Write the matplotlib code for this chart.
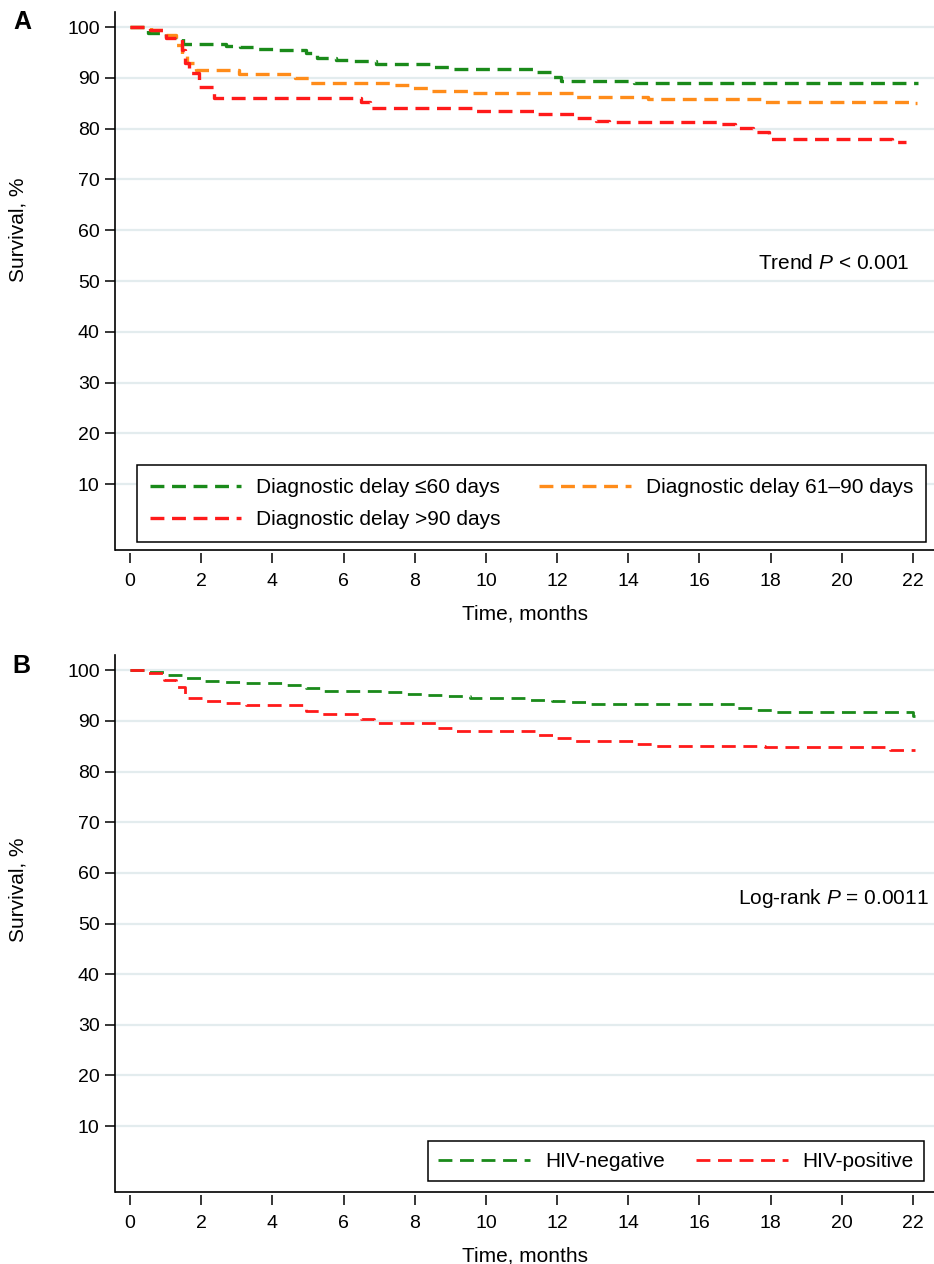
import matplotlib
matplotlib.use("Agg")
import matplotlib.pyplot as plt

plt.rcParams["font.family"] = ["Liberation Sans", "DejaVu Sans"]
plt.rcParams["mathtext.fontset"] = "custom"
plt.rcParams["mathtext.rm"] = "Liberation Sans"
plt.rcParams["mathtext.it"] = "Liberation Sans:italic"
plt.rcParams["lines.scale_dashes"] = False

# ---- Panel A: survival by diagnostic delay --------------------------------
a_green_t = [0, 0.5, 1.0, 1.5, 2.7, 3.1, 3.6, 4.2, 4.95, 5.25, 5.8, 6.3, 6.9,
             8.5, 9.05, 11.4, 11.85, 12.1, 14.15, 22.15]
a_green_s = [100, 98.8, 98.0, 96.7, 96.3, 96.1, 95.8, 95.6, 95.0, 94.0, 93.5,
             93.3, 92.8, 92.2, 91.7, 91.2, 90.2, 89.4, 89.0, 89.0]

a_orange_t = [0, 0.6, 1.0, 1.3, 1.45, 1.6, 1.85, 3.05, 4.65, 5.05, 7.35, 7.9,
              8.45, 9.55, 12.5, 14.55, 17.75, 22.05, 22.1]
a_orange_s = [100, 99.5, 98.5, 96.5, 94.5, 93.0, 91.6, 90.7, 90.0, 89.1, 88.6,
              88.0, 87.5, 87.0, 86.3, 85.8, 85.3, 85.0, 85.0]

a_red_t = [0, 0.55, 1.0, 1.45, 1.55, 1.65, 1.95, 2.35, 6.5, 6.75, 9.6, 11.35,
           12.55, 13.1, 13.45, 16.6, 17.0, 17.5, 17.95, 21.4, 21.8]
a_red_s = [100, 99.5, 97.8, 95.5, 93.0, 91.0, 88.2, 86.1, 85.2, 84.1, 83.5,
           82.9, 82.2, 81.6, 81.4, 80.9, 80.1, 79.3, 78.0, 77.3, 77.3]

a_labels = ["Diagnostic delay \u226460 days", "Diagnostic delay 61\u201390 days",
            "Diagnostic delay >90 days"]

# ---- Panel B: survival by HIV status --------------------------------------
b_neg_t = [0, 0.5, 1.0, 1.5, 2.0, 2.65, 3.25, 3.8, 4.4, 4.95, 5.35, 7.2, 7.75,
           8.35, 8.9, 9.55, 11.25, 11.85, 12.4, 12.95, 17.0, 17.6, 18.05,
           22.0, 22.05]
b_neg_s = [100, 99.7, 99.0, 98.4, 97.9, 97.7, 97.5, 97.4, 97.1, 96.4, 95.9,
           95.6, 95.3, 95.1, 94.9, 94.6, 94.2, 94.0, 93.7, 93.3, 92.6, 92.2,
           91.7, 91.0, 91.0]

b_pos_t = [0, 0.5, 0.95, 1.3, 1.55, 2.05, 2.65, 3.25, 4.95, 5.4, 6.5, 6.85,
           8.6, 9.05, 11.45, 11.9, 12.45, 14.25, 14.75, 17.85, 21.35, 22.05]
b_pos_s = [100, 99.4, 98.0, 96.7, 94.5, 93.9, 93.6, 93.1, 92.0, 91.3, 90.3,
           89.5, 88.5, 87.9, 87.2, 86.6, 86.1, 85.4, 85.0, 84.8, 84.2, 84.2]

b_labels = ["HIV-negative", "HIV-positive"]

GREEN, ORANGE, RED = "#1a8a1a", "#ff8c1a", "#ff1a1a"
DASH = (10, 5.5)

fig = plt.figure(figsize=(9.34, 12.64), dpi=100)
W, H = 934, 1264


def setup(ax, ylab_px):
    ax.set_xlim(-0.42, 22.59)
    ax.set_ylim(-3, 103)
    ax.set_xticks(range(0, 23, 2))
    ax.set_yticks(range(10, 101, 10))
    ax.yaxis.grid(True, color="#e3ecee", lw=1.6)
    ax.set_axisbelow(True)
    for s in ["top", "right"]:
        ax.spines[s].set_visible(False)
    ax.spines["left"].set_linewidth(1.2)
    ax.spines["bottom"].set_position(("outward", 2.5))
    ax.spines["bottom"].set_visible(False)
    ax.plot([0, 1], [0, 0], transform=ax.transAxes, color="black", lw=1.2,
            clip_on=False, solid_capstyle="butt")
    ax.tick_params(direction="out", length=7, width=1.1, labelsize=14,
                   color="black")
    ax.tick_params(axis="y", pad=4)
    ax.tick_params(axis="x", pad=7)
    ax.set_xlabel("Time, months", fontsize=15)
    ax.xaxis.set_label_coords(0.5, -0.102)
    fig.text(18 / W, 1 - ylab_px / H, "Survival, %", fontsize=15,
             rotation=90, ha="center", va="center")


# Panel A
axA = fig.add_axes([115 / W, 1 - 550 / H, 819 / W, 538 / H])
setup(axA, 230)
lg, = axA.plot(a_green_t, a_green_s, drawstyle="steps-post", color=GREEN,
               lw=2.4, dashes=DASH, label=a_labels[0])
lo, = axA.plot(a_orange_t, a_orange_s, drawstyle="steps-post", color=ORANGE,
               lw=2.4, dashes=DASH, label=a_labels[1])
lr, = axA.plot(a_red_t, a_red_s, drawstyle="steps-post", color=RED,
               lw=2.4, dashes=DASH, label=a_labels[2])
axA.text(17.65, 53.4, "Trend $P$ < 0.001", fontsize=15, va="center")
legA = axA.legend([lg, lr, lo], [a_labels[0], a_labels[2], a_labels[1]],
                  ncol=2, loc="lower left", mode="expand",
                  bbox_to_anchor=(0.027, 0.015, 0.963, 0.15), borderaxespad=0,
                  fontsize=15, handlelength=4.4, handletextpad=0.72,
                  columnspacing=1.25, labelspacing=0.65, borderpad=0.6,
                  fancybox=False, framealpha=1, edgecolor="black")
legA.get_frame().set_linewidth(1.1)
fig.text(13 / W, 1 - 22 / H, "A", fontsize=18, fontweight="bold",
         va="center", ha="left")

# Panel B
axB = fig.add_axes([115 / W, 1 - 1192 / H, 819 / W, 537 / H])
setup(axB, 890)
ln, = axB.plot(b_neg_t, b_neg_s, drawstyle="steps-post", color=GREEN,
               lw=2.0, dashes=DASH, label=b_labels[0])
lp, = axB.plot(b_pos_t, b_pos_s, drawstyle="steps-post", color=RED,
               lw=2.0, dashes=DASH, label=b_labels[1])
axB.text(17.08, 54.9, "Log-rank $P$ = 0.0011", fontsize=15, va="center")
legB = axB.legend(ncol=2, loc="lower right",
                  bbox_to_anchor=(0.988, 0.02), borderaxespad=0,
                  fontsize=15, handlelength=4.4, handletextpad=0.72,
                  columnspacing=1.5, borderpad=0.5,
                  fancybox=False, framealpha=1, edgecolor="black")
legB.get_frame().set_linewidth(1.1)
fig.text(12 / W, 1 - 666 / H, "B", fontsize=18, fontweight="bold",
         va="center", ha="left")

fig.savefig("out.png", dpi=100)
